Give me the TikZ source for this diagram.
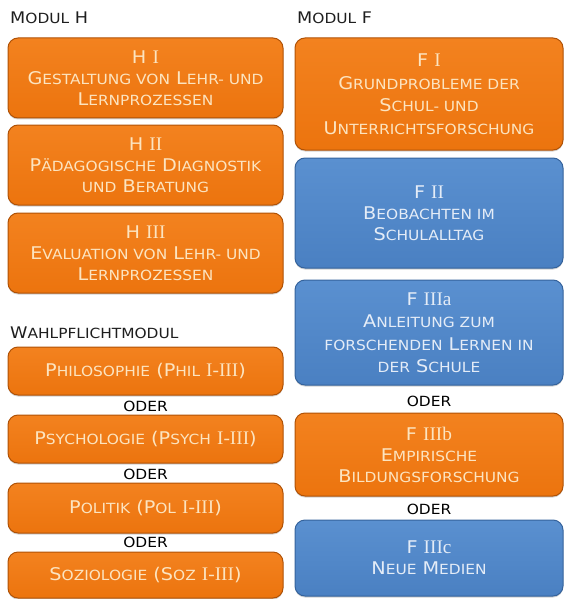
\documentclass[tikz,border=0pt]{standalone}
\usepackage{fontspec}
\setmainfont[FakeStretch=1.1]{DejaVu Sans}
\newfontfamily\romf[Scale=1.1]{Liberation Serif}
\usetikzlibrary{shadows}
\definecolor{orA}{HTML}{EC740E}
\definecolor{orL}{HTML}{F3821F}
\definecolor{orD}{HTML}{B05206}
\definecolor{orT}{HTML}{FCE4C0}
\definecolor{blA}{HTML}{4A80C2}
\definecolor{blL}{HTML}{5A90D0}
\definecolor{blD}{HTML}{35639C}
\definecolor{blT}{HTML}{E4ECF7}
\definecolor{lab}{HTML}{1E1E1E}
\newcommand\s[1]{{\fontsize{14}{21}\selectfont #1}}
\newcommand\ls[1]{{\fontsize{14}{18}\selectfont #1}}
\tikzset{
  basebox/.style={rounded corners=10pt, inner sep=0pt, align=center, line width=1pt,
    drop shadow={shadow xshift=0pt, shadow yshift=-1.5pt, opacity=0.35},
    font=\fontsize{17.5}{21}\selectfont},
  obox/.style={basebox, draw=orD, top color=orL, bottom color=orA, text=orT},
  bbox/.style={basebox, draw=blD, top color=blL, bottom color=blA, text=blT},
  lbox/.style={minimum width=275pt},
  rbox/.style={minimum width=268pt},
  headlab/.style={anchor=west, inner sep=0pt, text=lab, font=\fontsize{16}{18}\selectfont},
  oderlab/.style={inner sep=0pt, text=black, font=\fontsize{14}{16}\selectfont},
}
\begin{document}
\begin{tikzpicture}[x=1pt,y=-1pt]
\useasboundingbox (0,0) rectangle (564,599);
% labels
\node[headlab] (lH) at (10,18) {M\ls{ODUL} H};
\node[headlab] (lF) at (297,18) {M\ls{ODUL} F};
\node[headlab] (lW) at (10,333) {W\ls{AHLPFLICHTMODUL}};
% left column
\node[obox,lbox,minimum height=80pt] (h1) at (145.5,78)
  {H {\romf I}\\ G\s{ESTALTUNG VON} L\s{EHR- UND}\\ L\s{ERNPROZESSEN}};
\node[obox,lbox,minimum height=80pt] (h2) at (145.5,165)
  {H {\romf II}\\ P\s{ÄDAGOGISCHE} D\s{IAGNOSTIK}\\ \s{UND} B\s{ERATUNG}};
\node[obox,lbox,minimum height=80pt] (h3) at (145.5,253)
  {H {\romf III}\\ E\s{VALUATION VON} L\s{EHR- UND}\\ L\s{ERNPROZESSEN}};
\node[obox,lbox,minimum height=48pt] (phil) at (145.5,371)
  {P\s{HILOSOPHIE} (P\s{HIL} {\romf I-III})};
\node[oderlab] (o1) at (145.5,406) {ODER};
\node[obox,lbox,minimum height=48pt] (psy) at (145.5,439)
  {P\s{SYCHOLOGIE} (P\s{SYCH} {\romf I-III})};
\node[oderlab] (o2) at (145.5,474) {ODER};
\node[obox,lbox,minimum height=50pt] (pol) at (145.5,508)
  {P\s{OLITIK} (P\s{OL} {\romf I-III})};
\node[oderlab] (o3) at (145.5,542) {ODER};
\node[obox,lbox,minimum height=46pt] (soz) at (145.5,575)
  {S\s{OZIOLOGIE} (S\s{OZ} {\romf I-III})};
% right column
\node[obox,rbox,minimum height=112pt,font=\fontsize{17.5}{22.5}\selectfont] (f1) at (429,94)
  {F {\romf I}\\ G\s{RUNDPROBLEME DER}\\ S\s{CHUL- UND}\\ U\s{NTERRICHTSFORSCHUNG}};
\node[bbox,rbox,minimum height=110pt] (f2) at (429,213)
  {F {\romf II}\\ B\s{EOBACHTEN IM}\\ S\s{CHULALLTAG}};
\node[bbox,rbox,minimum height=105pt,font=\fontsize{17.5}{22.5}\selectfont] (f3a) at (429,332.5)
  {F {\romf IIIa}\\ A\s{NLEITUNG ZUM}\\ \s{FORSCHENDEN} L\s{ERNEN IN}\\ \s{DER} S\s{CHULE}};
\node[oderlab] (o4) at (429,401) {ODER};
\node[obox,rbox,minimum height=83pt] (f3b) at (429,454.5)
  {F {\romf IIIb}\\ E\s{MPIRISCHE}\\ B\s{ILDUNGSFORSCHUNG}};
\node[oderlab] (o5) at (429,509) {ODER};
\node[bbox,rbox,minimum height=76pt] (f3c) at (429,558)
  {F {\romf IIIc}\\ N\s{EUE} M\s{EDIEN}};
\end{tikzpicture}
\end{document}
